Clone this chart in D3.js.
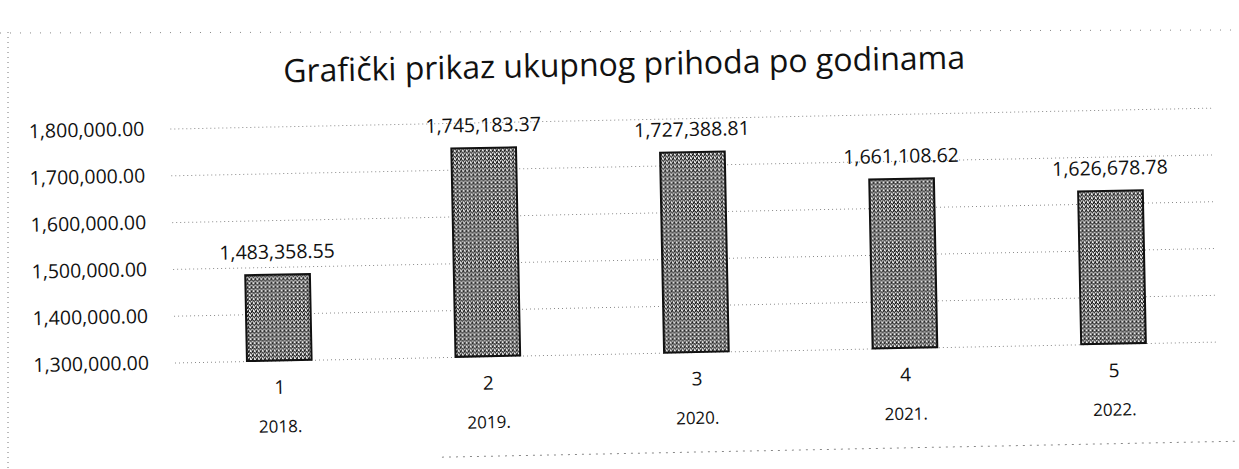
<!DOCTYPE html>
<meta charset="utf-8">
<head>
  <title>Graficki prikaz ukupnog prihoda</title>
  <style>
    body { margin: 0; background: #fff; }
    text { font-family: "Open Sans", "Noto Sans", sans-serif; fill: #111; }
  </style>
</head>
<body>
  <svg width="1239" height="469"></svg>

  <script src="https://cdnjs.cloudflare.com/ajax/libs/d3/7.8.5/d3.min.js"></script>
  <script>
var indices = ['1', '2', '3', '4', '5'];
var years = ['2018.', '2019.', '2020.', '2021.', '2022.'];
var prihod = [1483358.55, 1745183.37, 1727388.81, 1661108.62, 1626678.78];
var yTicks = [1300000, 1400000, 1500000, 1600000, 1700000, 1800000];

var svg = d3.select('svg');

// grainy grey fill, like the scanned bars
var pat = svg.append('defs').append('pattern')
  .attr('id', 'grain')
  .attr('width', 4).attr('height', 4)
  .attr('patternUnits', 'userSpaceOnUse');
pat.append('rect').attr('width', 4).attr('height', 4).attr('fill', '#8e8e8e');
[[0, 0], [2, 1], [1, 3], [3, 2], [1, 0], [0, 1]].forEach(function(p) {
  pat.append('rect').attr('x', p[0]).attr('y', p[1]).attr('width', 1).attr('height', 1).attr('fill', '#1e1e1e');
});
[[3, 0], [0, 2], [2, 3], [2, 0]].forEach(function(p) {
  pat.append('rect').attr('x', p[0]).attr('y', p[1]).attr('width', 1).attr('height', 1).attr('fill', '#f0f0f0');
});

// frame of the scanned chart (dotted)
svg.append('line').attr('x1', 8).attr('x2', 8).attr('y1', 32).attr('y2', 469)
  .attr('stroke', '#777').attr('stroke-dasharray', '1,4');
svg.append('line').attr('x1', 0).attr('x2', 1239).attr('y1', 33).attr('y2', 30)
  .attr('stroke', '#888').attr('stroke-dasharray', '1,9');

// the scan is slightly tilted
var g = svg.append('g').attr('transform', 'rotate(-1.15, 200, 362)');

g.append('line').attr('x1', 440).attr('x2', 1239).attr('y1', 462).attr('y2', 462)
  .attr('stroke', '#888').attr('stroke-dasharray', '2,5');

var x = d3.scaleBand()
  .domain(indices)
  .range([175, 1218])
  .paddingInner(0.69)
  .paddingOuter(0.345);

var y = d3.scaleLinear()
  .domain([1300000, 1800000])
  .range([362, 128]);

g.append('text')
  .attr('x', 630).attr('y', 84)
  .attr('text-anchor', 'middle')
  .style('font-size', '32px')
  .text('Grafički prikaz ukupnog prihoda po godinama');

var yAxis = g.append('g')
  .attr('transform', 'translate(175,0)')
  .call(d3.axisLeft(y)
    .tickValues(yTicks)
    .tickFormat(d3.format(',.2f'))
    .tickSize(-(1218 - 175))
    .tickPadding(26));
yAxis.select('.domain').remove();
yAxis.selectAll('.tick line')
  .attr('stroke', '#8a8a8a')
  .attr('stroke-dasharray', '1,3');
yAxis.selectAll('.tick text')
  .style('font-size', '19.5px')
  .style('font-family', '"Open Sans", sans-serif');

g.selectAll('rect.bar')
  .data(prihod)
  .enter()
  .append('rect')
  .attr('class', 'bar')
  .attr('x', function(d, i) { return x(indices[i]); })
  .attr('y', function(d) { return y(d); })
  .attr('width', x.bandwidth())
  .attr('height', function(d) { return y(1300000) - y(d); })
  .attr('fill', 'url(#grain)')
  .attr('stroke', '#111')
  .attr('stroke-width', 2);

g.selectAll('text.val')
  .data(prihod)
  .enter()
  .append('text')
  .attr('class', 'val')
  .attr('x', function(d, i) { return x(indices[i]) + x.bandwidth() / 2; })
  .attr('y', function(d) { return y(d) - 16; })
  .attr('text-anchor', 'middle')
  .style('font-size', '19.5px')
  .text(d3.format(',.2f'));

var xAxis = g.append('g')
  .attr('transform', 'translate(0,362)')
  .call(d3.axisBottom(x).tickSize(0).tickPadding(20));
xAxis.select('.domain').remove();
xAxis.selectAll('.tick text')
  .style('font-size', '19px')
  .style('font-family', '"Open Sans", sans-serif');

g.selectAll('text.year')
  .data(years)
  .enter()
  .append('text')
  .attr('class', 'year')
  .attr('x', function(d, i) { return x(indices[i]) + x.bandwidth() / 2; })
  .attr('y', 434)
  .attr('text-anchor', 'middle')
  .style('font-size', '17px')
  .text(function(d) { return d; });
  </script>
</body>
</html>
